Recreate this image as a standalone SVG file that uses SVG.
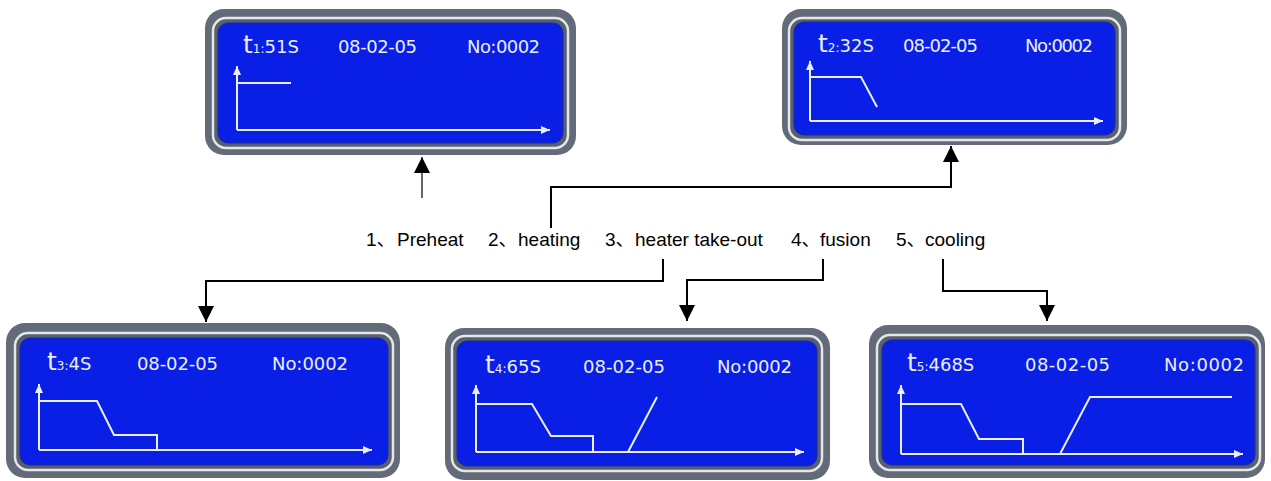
<svg xmlns="http://www.w3.org/2000/svg" width="1271" height="481" viewBox="0 0 1271 481">
<defs>
<style>
.outer{fill:#636b78}
.ring{fill:#57606e;stroke:#e4e6ea;stroke-width:2.5}
.screen{fill:#0a1fe6;stroke:#1a2a9a;stroke-width:1}
.lcd{font-family:"DejaVu Sans",sans-serif;font-size:18px;fill:#e9eef9}
.big{font-size:25px}
.sub{font-size:12px}
.ax{fill:none;stroke:#e9eef9;stroke-width:2}
.conn{fill:none;stroke:#000;stroke-width:2}
.lbl{font-family:"Liberation Sans","Noto Sans CJK SC",sans-serif;font-size:19px;fill:#000}
</style>
<marker id="ah" markerUnits="userSpaceOnUse" markerWidth="16" markerHeight="16" viewBox="0 0 16 16" refX="16" refY="8" orient="auto">
<path d="M0,0 L16,8 L0,16 z" fill="#000"/>
</marker>
<marker id="wa" markerUnits="userSpaceOnUse" markerWidth="9" markerHeight="8" viewBox="0 0 9 8" refX="9" refY="4" orient="auto">
<path d="M0,0 L9,4 L0,8 z" fill="#e9eef9"/>
</marker>
</defs>

<g id="panel1">
<rect class="outer" x="205" y="9" width="371" height="146" rx="19"/>
<rect class="ring" x="213" y="18" width="355" height="130" rx="13"/>
<rect class="screen" x="218" y="23" width="345" height="120" rx="10"/>
<text class="lcd" x="243" y="53"><tspan class="big">t</tspan><tspan class="sub">1:</tspan>51S</text>
<text class="lcd" x="338" y="53" textLength="79">08-02-05</text>
<text class="lcd" x="467" y="53" textLength="73">No:0002</text>
<path class="ax" d="M237,130 V66" marker-end="url(#wa)"/>
<path class="ax" d="M237,130 H550" marker-end="url(#wa)"/>
<path class="ax" d="M237,83 H291"/>
</g>

<g id="panel2">
<rect class="outer" x="782" y="9" width="345" height="136" rx="19"/>
<rect class="ring" x="789" y="18" width="331" height="122" rx="13"/>
<rect class="screen" x="794" y="22" width="321" height="113" rx="10"/>
<text class="lcd" x="818" y="52"><tspan class="big">t</tspan><tspan class="sub">2:</tspan>32S</text>
<text class="lcd" x="903" y="52" textLength="75">08-02-05</text>
<text class="lcd" x="1025" y="52" textLength="68">No:0002</text>
<path class="ax" d="M810,121 V61" marker-end="url(#wa)"/>
<path class="ax" d="M810,121 H1103" marker-end="url(#wa)"/>
<path class="ax" d="M810,77 H861 L877,107"/>
</g>

<g id="panel3">
<rect class="outer" x="6" y="323" width="394" height="155" rx="19"/>
<rect class="ring" x="15" y="333" width="378" height="137" rx="13"/>
<rect class="screen" x="20" y="338" width="368" height="127" rx="10"/>
<text class="lcd" x="47" y="370"><tspan class="big">t</tspan><tspan class="sub">3:</tspan>4S</text>
<text class="lcd" x="137" y="370" textLength="81">08-02-05</text>
<text class="lcd" x="272" y="370" textLength="76">No:0002</text>
<path class="ax" d="M39,450 V384" marker-end="url(#wa)"/>
<path class="ax" d="M39,450 H372" marker-end="url(#wa)"/>
<path class="ax" d="M39,401 H97 L114,435 H157 V450"/>
</g>

<g id="panel4">
<rect class="outer" x="445" y="328" width="385" height="152" rx="19"/>
<rect class="ring" x="452" y="336" width="370" height="135" rx="13"/>
<rect class="screen" x="457" y="341" width="360" height="125" rx="10"/>
<text class="lcd" x="485" y="373"><tspan class="big">t</tspan><tspan class="sub">4:</tspan>65S</text>
<text class="lcd" x="583" y="373" textLength="82">08-02-05</text>
<text class="lcd" x="717" y="373" textLength="75">No:0002</text>
<path class="ax" d="M476,452 V385" marker-end="url(#wa)"/>
<path class="ax" d="M476,452 H804" marker-end="url(#wa)"/>
<path class="ax" d="M476,404 H532 L551,436 H593 V452"/>
<path class="ax" d="M628,452 L657,397"/>
</g>

<g id="panel5">
<rect class="outer" x="869" y="325" width="396" height="153" rx="19"/>
<rect class="ring" x="877" y="335" width="383" height="135" rx="13"/>
<rect class="screen" x="882" y="340" width="373" height="125" rx="10"/>
<text class="lcd" x="907" y="371"><tspan class="big">t</tspan><tspan class="sub">5:</tspan>468S</text>
<text class="lcd" x="1025" y="371" textLength="85">08-02-05</text>
<text class="lcd" x="1164" y="371" textLength="80">No:0002</text>
<path class="ax" d="M901,454 V385" marker-end="url(#wa)"/>
<path class="ax" d="M901,454 H1243" marker-end="url(#wa)"/>
<path class="ax" d="M901,404 H961 L979,439 H1023 V454"/>
<path class="ax" d="M1060,454 L1090,397 H1232"/>
</g>

<g id="labels">
<text class="lbl" y="246"><tspan x="366">1、</tspan><tspan x="397">Preheat</tspan><tspan x="488">2、</tspan><tspan x="518">heating</tspan><tspan x="605">3、</tspan><tspan x="635">heater take-out</tspan><tspan x="791">4、</tspan><tspan x="820">fusion</tspan><tspan x="896">5、</tspan><tspan x="925">cooling</tspan></text>
</g>

<g id="connectors">
<path class="conn" style="stroke-width:1.2" d="M422,198 V157" marker-end="url(#ah)"/>
<path class="conn" d="M551,228 V187 H951 V146" marker-end="url(#ah)"/>
<path class="conn" d="M663,259 V281 H206 V322" marker-end="url(#ah)"/>
<path class="conn" d="M823,259 V280 H687 V321" marker-end="url(#ah)"/>
<path class="conn" d="M943,259 V291 H1047 V321" marker-end="url(#ah)"/>
</g>
</svg>
